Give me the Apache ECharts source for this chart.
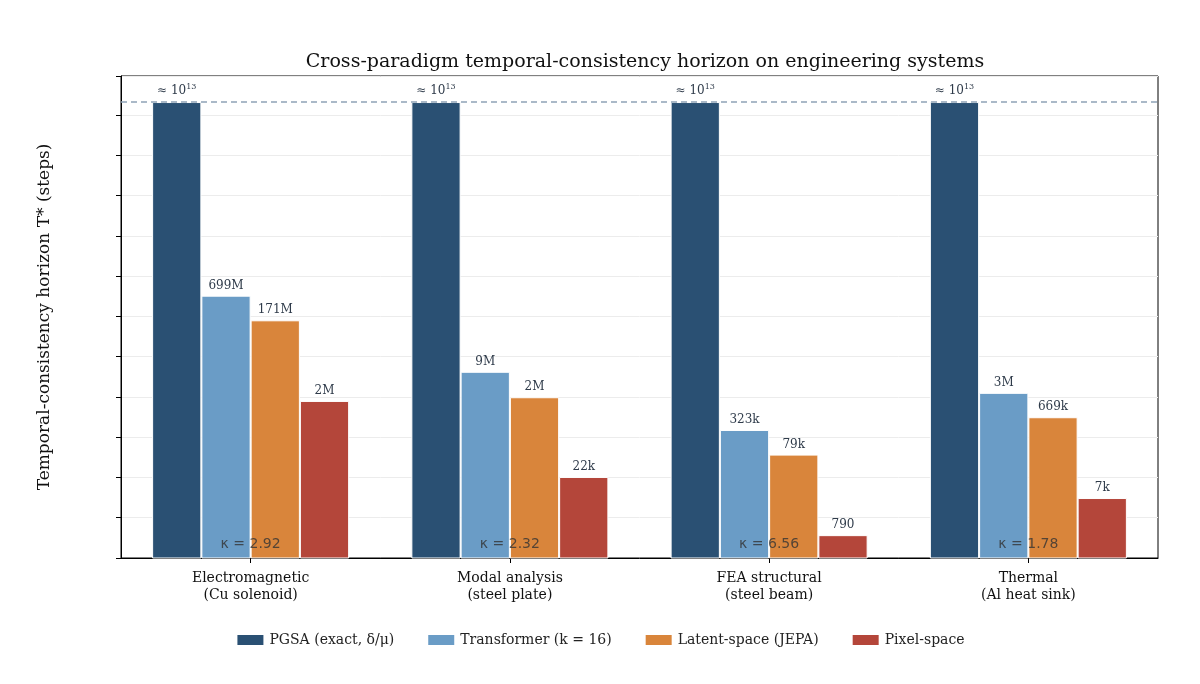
<!DOCTYPE html>
<html><head><meta charset="utf-8">
<script src="https://cdn.jsdelivr.net/npm/echarts@6/dist/echarts.min.js"></script>
<style>html,body{margin:0;background:#fff}#c{width:1200px;height:684px}</style>
</head><body><div id="c"></div>
<script>
const categories = ["Electromagnetic\n(Cu solenoid)", "Modal analysis\n(steel plate)", "FEA structural\n(steel beam)", "Thermal\n(Al heat sink)"];
const pgsa = [4.5e13, 4.5e13, 4.5e13, 4.5e13];
const transformer = [699e6, 9e6, 323e3, 2.7e6];
const latent = [171e6, 2.1e6, 79e3, 669e3];
const pixel = [1.7e6, 22e3, 790, 6.6e3];
const kappa = ["2.92", "2.32", "6.56", "1.78"];
const seriesNames = ["PGSA (exact, δ/μ)", "Transformer (k = 16)", "Latent-space (JEPA)", "Pixel-space"];
const colors = ["#2a5073", "#6a9cc6", "#d9853b", "#b4463a"];
const yMin = 2.33, yMax = 14.3, horizon = 4.5e13;

const F = "DejaVu Serif";
const sup = {fontFamily: F, fontSize: 12, color: "#111", verticalAlign: "top", padding: [0,0,8,0]};
function fmt(v){
  if (v >= 1e6) return Math.round(v/1e6) + "M";
  if (v >= 1e3) return Math.round(v/1e3) + "k";
  return String(Math.round(v));
}
const L = a => a.map(v => Math.log10(v));
function bar(name, vals, color, labelFn){
  return {type: "bar", name, data: L(vals), itemStyle: {color, borderColor: "#fff", borderWidth: 1},
    barGap: "0%", barCategoryGap: "24%",
    label: {show: true, position: "top", distance: 4, fontFamily: F, fontSize: 12, color: "#2f3b4a",
      formatter: p => labelFn(vals[p.dataIndex]), rich: {s: {fontFamily: F, fontSize: 8, color: "#2f3b4a", padding: [0,0,7,0]}}}};
}
const chart = echarts.init(document.getElementById("c"));
chart.setOption({
  animation: false,
  title: {text: "Cross-paradigm temporal-consistency horizon on engineering systems", left: 640, top: 48, textAlign: "center",
    textStyle: {fontFamily: F, fontSize: 19, fontWeight: "normal", color: "#111"}},
  grid: {left: 121, right: 42, top: 76, bottom: 126},
  legend: {bottom: 32, left: "center", itemWidth: 28, itemHeight: 12, itemGap: 32, icon: "rect",
    textStyle: {fontFamily: F, fontSize: 14, color: "#222"}, data: seriesNames},
  xAxis: {type: "category", data: categories, axisLine: {lineStyle: {color: "#000"}}, axisTick: {show: true, alignWithLabel: true, lineStyle: {color: "#000"}},
    axisLabel: {fontFamily: F, fontSize: 14, color: "#111", lineHeight: 17, margin: 12}},
  yAxis: {type: "value", min: yMin, max: yMax, interval: 1, name: "Temporal-consistency horizon T* (steps)",
    nameLocation: "middle", nameGap: 68, nameTextStyle: {fontFamily: F, fontSize: 17, color: "#111"},
    axisLine: {show: true, lineStyle: {color: "#000"}}, axisTick: {show: true, lineStyle: {color: "#000"}},
    splitLine: {lineStyle: {color: "#ececec"}},
    axisLabel: {fontFamily: F, fontSize: 17, color: "#111",
      formatter: v => (Math.abs(v - Math.round(v)) < 1e-6 && v >= 3 && v <= 14) ? "10{s|" + Math.round(v) + "}" : "",
      rich: {s: sup}},
    customValues: [3,4,5,6,7,8,9,10,11,12,13,14]},
  series: [
    Object.assign(bar(seriesNames[0], pgsa, colors[0], v => "≈ 10{s|" + Math.floor(Math.log10(v)) + "}"),
      {markLine: {silent: true, symbol: "none", label: {show: false}, lineStyle: {color: "#8ea3b6", type: [6,4], width: 1.5},
        data: [{yAxis: Math.log10(horizon)}]}}),
    bar(seriesNames[1], transformer, colors[1], fmt),
    bar(seriesNames[2], latent, colors[2], fmt),
    bar(seriesNames[3], pixel, colors[3], fmt),
    {type: "scatter", symbolSize: 0, data: categories.map((c,i)=>[i, 2.68]), z: 10, silent: true,
      label: {show: true, position: "inside", fontFamily: "DejaVu Sans", fontSize: 14, color: "#333",
        formatter: p => "κ = " + kappa[p.dataIndex]}}
  ],
  graphic: [{type: "rect", shape: {x: 121, y: 76, width: 1037, height: 482}, style: {fill: "none", stroke: "#000", lineWidth: 1}, silent: true}]
});
</script></body></html>
